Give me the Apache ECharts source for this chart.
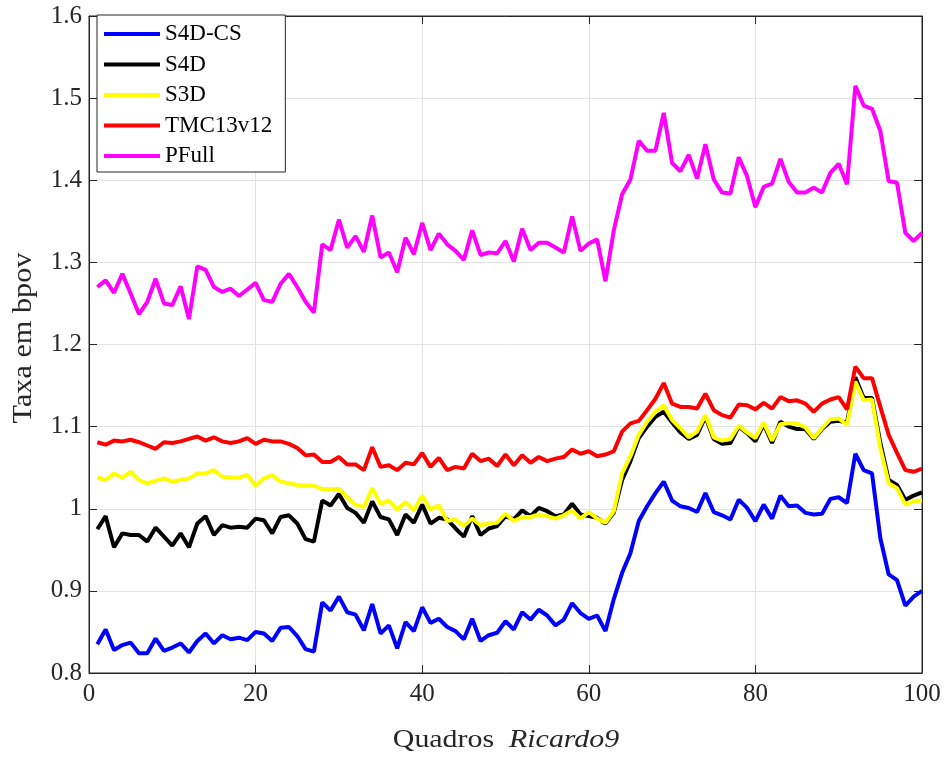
<!DOCTYPE html>
<html>
<head>
<meta charset="utf-8">
<script src="https://cdn.jsdelivr.net/npm/echarts@6/dist/echarts.min.js"></script>
<style>html,body{margin:0;padding:0;background:#fff}#c{width:949px;height:758px}</style>
</head>
<body>
<div id="c"></div>
<script>
const frames = [1,2,3,4,5,6,7,8,9,10,11,12,13,14,15,16,17,18,19,20,21,22,23,24,25,26,27,28,29,30,31,32,33,34,35,36,37,38,39,40,41,42,43,44,45,46,47,48,49,50,51,52,53,54,55,56,57,58,59,60,61,62,63,64,65,66,67,68,69,70,71,72,73,74,75,76,77,78,79,80,81,82,83,84,85,86,87,88,89,90,91,92,93,94,95,96,97,98,99,100];

const s4dcs = [0.835,0.853,0.828,0.834,0.837,0.824,0.824,0.842,0.827,0.831,
0.836,0.825,0.839,0.848,0.836,0.846,0.841,0.843,0.840,0.850,
0.848,0.839,0.855,0.856,0.845,0.829,0.826,0.886,0.876,0.893,
0.874,0.871,0.852,0.884,0.848,0.858,0.830,0.862,0.851,0.880,
0.861,0.866,0.856,0.851,0.841,0.866,0.839,0.846,0.849,0.863,
0.853,0.874,0.865,0.877,0.870,0.858,0.865,0.885,0.873,0.866,
0.870,0.851,0.890,0.922,0.946,0.985,1.003,1.019,1.033,1.010,
1.003,1.001,0.996,1.019,0.996,0.992,0.987,1.011,1.001,0.985,
1.005,0.988,1.016,1.003,1.004,0.995,0.993,0.994,1.012,1.014,
1.007,1.067,1.047,1.043,0.964,0.920,0.913,0.882,0.893,0.900];

const s4d = [0.975,0.991,0.953,0.970,0.968,0.968,0.960,0.977,0.966,0.955,
0.970,0.953,0.982,0.991,0.968,0.980,0.977,0.978,0.977,0.988,
0.986,0.970,0.990,0.992,0.982,0.963,0.960,1.010,1.004,1.018,
1.001,0.995,0.983,1.009,0.990,0.987,0.968,0.993,0.983,1.005,
0.982,0.989,0.987,0.976,0.966,0.991,0.968,0.976,0.979,0.991,
0.987,0.998,0.991,1.001,0.997,0.991,0.993,1.006,0.993,0.991,
0.989,0.982,0.995,1.035,1.058,1.086,1.100,1.112,1.118,1.105,
1.093,1.085,1.090,1.112,1.085,1.079,1.080,1.100,1.092,1.082,
1.103,1.080,1.106,1.100,1.097,1.097,1.085,1.097,1.106,1.107,
1.105,1.160,1.135,1.135,1.080,1.035,1.029,1.011,1.016,1.020];

const s3d = [1.038,1.035,1.043,1.038,1.045,1.035,1.031,1.034,1.037,1.033,
1.035,1.037,1.043,1.043,1.047,1.039,1.038,1.038,1.041,1.028,
1.037,1.041,1.033,1.031,1.029,1.028,1.028,1.024,1.024,1.024,
1.014,1.005,1.002,1.025,1.006,1.010,0.999,1.008,0.998,1.016,
0.999,1.004,0.985,0.987,0.979,0.988,0.980,0.982,0.983,0.994,
0.985,0.990,0.990,0.993,0.991,0.988,0.992,0.998,0.988,0.996,
0.988,0.983,0.997,1.043,1.064,1.090,1.106,1.118,1.126,1.108,
1.098,1.087,1.094,1.114,1.087,1.083,1.085,1.101,1.093,1.086,
1.105,1.083,1.103,1.104,1.104,1.099,1.086,1.098,1.109,1.110,
1.102,1.155,1.132,1.133,1.074,1.031,1.025,1.005,1.009,1.010];

const tmc = [1.081,1.078,1.083,1.082,1.084,1.081,1.077,1.073,1.081,1.080,
1.082,1.085,1.088,1.083,1.087,1.082,1.080,1.082,1.086,1.079,
1.084,1.082,1.082,1.079,1.074,1.065,1.066,1.057,1.057,1.063,
1.054,1.054,1.047,1.075,1.051,1.053,1.047,1.056,1.054,1.068,
1.051,1.062,1.047,1.051,1.049,1.067,1.058,1.061,1.052,1.066,
1.053,1.065,1.056,1.063,1.058,1.061,1.063,1.072,1.067,1.070,
1.064,1.066,1.070,1.094,1.104,1.107,1.120,1.134,1.153,1.128,
1.124,1.124,1.122,1.140,1.120,1.114,1.111,1.127,1.126,1.121,
1.129,1.122,1.136,1.131,1.132,1.128,1.118,1.128,1.133,1.136,
1.121,1.173,1.159,1.159,1.124,1.090,1.068,1.047,1.045,1.049];

const pfull = [1.270,1.278,1.263,1.286,1.262,1.237,1.252,1.280,1.250,1.248,
1.271,1.231,1.295,1.291,1.270,1.264,1.268,1.259,1.267,1.275,
1.254,1.252,1.274,1.286,1.270,1.252,1.239,1.322,1.315,1.352,
1.318,1.332,1.313,1.357,1.306,1.312,1.288,1.330,1.310,1.348,
1.315,1.335,1.322,1.314,1.303,1.339,1.309,1.312,1.311,1.326,
1.301,1.341,1.315,1.324,1.324,1.318,1.312,1.356,1.314,1.323,
1.328,1.277,1.339,1.383,1.401,1.448,1.436,1.436,1.482,1.421,
1.411,1.431,1.402,1.444,1.401,1.385,1.384,1.428,1.405,1.367,
1.392,1.396,1.426,1.398,1.385,1.385,1.391,1.385,1.409,1.420,
1.395,1.515,1.491,1.487,1.460,1.399,1.397,1.336,1.326,1.336];

const seriesNames = ['S4D-CS','S4D','S3D','TMC13v12','PFull'];
const seriesColors = ['#0000ff','#000000','#ffff00','#ff0000','#ff00ff'];
const seriesData = [s4dcs, s4d, s3d, tmc, pfull];
const xTitle = 'Quadros  {i|Ricardo9}';
const yTitle = 'Taxa em bpov';

const FONT = '"Liberation Serif", "Times New Roman", serif';
const AX = '#262626';

const chart = echarts.init(document.getElementById('c'), null, {renderer:'canvas'});
const series = seriesNames.map((n, k) => ({
  name: n,
  type: 'line',
  showSymbol: false,
  symbol: 'none',
  data: frames.map((f, i) => [f, seriesData[k][i]]),
  lineStyle: {width: 4, color: seriesColors[k]},
  itemStyle: {color: seriesColors[k]},
  z: 3 + k
}));

const option = {
  animation: false,
  backgroundColor: '#fff',
  grid: {left: 89, right: 27, top: 16, bottom: 85, show: true, borderColor: AX, borderWidth: 1, backgroundColor: '#fff'},
  legend: {
    orient: 'vertical', left: 97, top: 15,
    icon: 'rect', itemWidth: 56, itemHeight: 4, itemGap: 7.5,
    padding: [7.5, 13, 4.5, 7],
    borderColor: AX, borderWidth: 1, backgroundColor: '#fff',
    textStyle: {fontFamily: FONT, fontSize: 23, color: '#000', lineHeight: 23},
    data: seriesNames
  },
  graphic: [{
    type: 'text', x: 506, y: 740, scaleX: 1.15,
    style: {text: xTitle, fontFamily: FONT, fontSize: 26, fill: AX, align: 'center', verticalAlign: 'middle',
      rich: {i: {fontFamily: FONT, fontSize: 26, fontStyle: 'italic', fill: AX}}}
  }, {
    type: 'text', x: 24, y: 338, rotation: Math.PI / 2, scaleX: 1.12,
    style: {text: yTitle, fontFamily: FONT, fontSize: 27, fill: AX, align: 'center', verticalAlign: 'middle'}
  }],
  xAxis: [{
    type: 'value', min: 0, max: 100, interval: 20,
    axisLine: {show: true, onZero: false, lineStyle: {color: AX, width: 1}},
    axisTick: {show: true, inside: true, length: 8, lineStyle: {color: AX}},
    axisLabel: {fontFamily: FONT, fontSize: 25, color: AX, margin: 9},
    splitLine: {show: true, lineStyle: {color: '#e3e3e3', width: 1}}
  }, {
    type: 'value', position: 'top', min: 0, max: 100, interval: 20,
    axisLine: {show: true, onZero: false, lineStyle: {color: AX}},
    axisTick: {show: true, inside: true, length: 8, lineStyle: {color: AX}},
    axisLabel: {show: false}, splitLine: {show: false}
  }],
  yAxis: [{
    type: 'value', min: 0.8, max: 1.6, interval: 0.1,
    axisLine: {show: true, onZero: false, lineStyle: {color: AX, width: 1}},
    axisTick: {show: true, inside: true, length: 8, lineStyle: {color: AX}},
    axisLabel: {fontFamily: FONT, fontSize: 25, color: AX, margin: 7,
      formatter: v => Math.abs(v - 1) < 1e-9 ? '1' : v.toFixed(1)},
    splitLine: {show: true, lineStyle: {color: '#e3e3e3', width: 1}}
  }, {
    type: 'value', position: 'right', min: 0.8, max: 1.6, interval: 0.1,
    axisLine: {show: true, onZero: false, lineStyle: {color: AX}},
    axisTick: {show: true, inside: true, length: 8, lineStyle: {color: AX}},
    axisLabel: {show: false}, splitLine: {show: false}
  }],
  series: series
};
chart.setOption(option);
</script>
</body>
</html>
